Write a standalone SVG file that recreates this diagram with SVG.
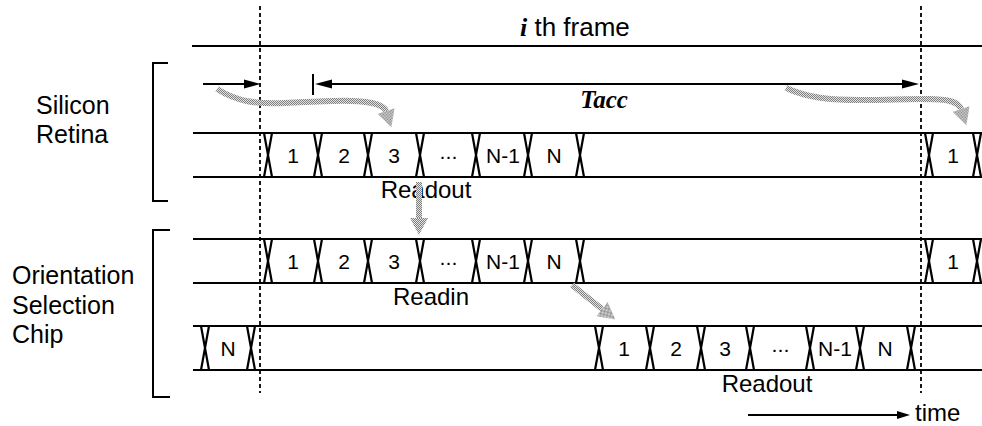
<svg xmlns="http://www.w3.org/2000/svg" width="982" height="426" viewBox="0 0 982 426">
<style>
.ln{stroke:#000;stroke-width:2;fill:none}
.dash{stroke:#000;stroke-width:1.8;stroke-dasharray:4 3;fill:none}
.xt{stroke:#000;stroke-width:2.2;fill:none}
.t{font-family:"Liberation Sans",Arial,sans-serif;fill:#000}
.lbl{font-size:21px;text-anchor:middle}
.cap{font-size:24px;text-anchor:middle}
.side{font-size:25px;text-anchor:start}
.bi{font-family:"Liberation Serif","Times New Roman",serif;font-weight:bold;font-style:italic}
.gray{stroke:url(#stip);stroke-width:6;fill:none}
.blk{stroke:#000;stroke-width:1.8;fill:none}
</style>
<defs>
<pattern id="stip" width="2" height="2" patternUnits="userSpaceOnUse">
<rect width="2" height="2" fill="#e2e2e2"/>
<rect width="1" height="1" fill="#808080"/>
<rect x="1" y="1" width="1" height="1" fill="#808080"/>
</pattern>
<marker id="gh" markerUnits="userSpaceOnUse" markerWidth="18" markerHeight="18" refX="0" refY="9" orient="auto" viewBox="0 0 18 18">
<path d="M0,0 L17,9 L0,18 z" fill="url(#stip)"/>
</marker>
<marker id="ah" markerUnits="userSpaceOnUse" markerWidth="17" markerHeight="10" refX="0" refY="5" orient="auto-start-reverse" viewBox="0 0 17 10">
<path d="M0,0.5 L17,5 L0,9.5 z" fill="#000"/>
</marker>
<marker id="ts" markerUnits="userSpaceOnUse" markerWidth="13" markerHeight="9" refX="0" refY="4.5" orient="auto" viewBox="0 0 13 9">
<path d="M0,0.5 L13,4.5 L0,8.5 z" fill="#000"/>
</marker>
<path id="x" d="M-4,0 L4,44 M4,0 L-4,44" class="xt"/>
</defs>

<g id="frame">
<line class="ln" x1="192" y1="46" x2="982" y2="46"/>
<text class="t" x="520" y="36" font-size="26px"><tspan class="bi">i</tspan> th frame</text>
</g>

<g id="time-markers">
<line class="dash" x1="260" y1="6" x2="260" y2="393"/>
<line class="dash" x1="921" y1="6" x2="921" y2="393"/>
</g>

<g id="silicon-retina">
<path class="ln" d="M168,63 H153 V201 H168"/>
<text class="t side" x="36" y="114">Silicon</text>
<text class="t side" x="36" y="143">Retina</text>
</g>

<g id="orientation-chip">
<path class="ln" d="M170,230 H153 V397 H170"/>
<text class="t side" x="12" y="284">Orientation</text>
<text class="t side" x="12" y="314">Selection</text>
<text class="t side" x="12" y="343">Chip</text>
</g>

<g id="row-retina-readout">
<line class="ln" x1="193" y1="133" x2="982" y2="133"/>
<line class="ln" x1="193" y1="177" x2="982" y2="177"/>
<use href="#x" x="268" y="133"/>
<use href="#x" x="318" y="133"/>
<use href="#x" x="368" y="133"/>
<use href="#x" x="420" y="133"/>
<use href="#x" x="476" y="133"/>
<use href="#x" x="528" y="133"/>
<use href="#x" x="580" y="133"/>
<use href="#x" x="929" y="133"/>
<use href="#x" x="977" y="133"/>
<text class="t lbl" x="293" y="163">1</text>
<text class="t lbl" x="344" y="163">2</text>
<text class="t lbl" x="394" y="163">3</text>
<text class="t lbl" x="448" y="163" letter-spacing="-1">···</text>
<text class="t lbl" x="503" y="163">N-1</text>
<text class="t lbl" x="554" y="163">N</text>
<text class="t lbl" x="953" y="163">1</text>
<text class="t cap" x="426" y="198">Readout</text>
</g>

<g id="row-chip-readin">
<line class="ln" x1="193" y1="239" x2="982" y2="239"/>
<line class="ln" x1="193" y1="283" x2="982" y2="283"/>
<use href="#x" x="268" y="239"/>
<use href="#x" x="318" y="239"/>
<use href="#x" x="368" y="239"/>
<use href="#x" x="420" y="239"/>
<use href="#x" x="476" y="239"/>
<use href="#x" x="528" y="239"/>
<use href="#x" x="580" y="239"/>
<use href="#x" x="929" y="239"/>
<use href="#x" x="977" y="239"/>
<text class="t lbl" x="293" y="269">1</text>
<text class="t lbl" x="344" y="269">2</text>
<text class="t lbl" x="394" y="269">3</text>
<text class="t lbl" x="448" y="269" letter-spacing="-1">···</text>
<text class="t lbl" x="503" y="269">N-1</text>
<text class="t lbl" x="554" y="269">N</text>
<text class="t lbl" x="953" y="269">1</text>
<text class="t cap" x="431" y="305">Readin</text>
</g>

<g id="row-chip-readout">
<line class="ln" x1="193" y1="326" x2="982" y2="326"/>
<line class="ln" x1="193" y1="370" x2="982" y2="370"/>
<use href="#x" x="205" y="326"/>
<use href="#x" x="251" y="326"/>
<use href="#x" x="599" y="326"/>
<use href="#x" x="650" y="326"/>
<use href="#x" x="701" y="326"/>
<use href="#x" x="750" y="326"/>
<use href="#x" x="810" y="326"/>
<use href="#x" x="860" y="326"/>
<use href="#x" x="911" y="326"/>
<text class="t lbl" x="228" y="356">N</text>
<text class="t lbl" x="624" y="356">1</text>
<text class="t lbl" x="676" y="356">2</text>
<text class="t lbl" x="725" y="356">3</text>
<text class="t lbl" x="780" y="356" letter-spacing="-1">···</text>
<text class="t lbl" x="835" y="356">N-1</text>
<text class="t lbl" x="885" y="356">N</text>
<text class="t cap" x="767" y="392">Readout</text>
</g>

<g id="connectors">
<line class="blk" x1="203" y1="84" x2="244" y2="84" marker-end="url(#ah)"/>
<line class="ln" x1="313" y1="74" x2="313" y2="95"/>
<line class="blk" x1="332" y1="84" x2="902" y2="84" marker-start="url(#ah)" marker-end="url(#ah)"/>
<text class="t bi" x="604" y="108" font-size="25px" text-anchor="middle">Tacc</text>
<path class="gray" d="M217,89 C238,102 255,104 285,103 C330,101 350,99 372,103 C381,105 385,108 386,111" marker-end="url(#gh)"/>
<path class="gray" d="M786,88 C808,98 830,100 860,100 C900,100 935,97 950,101 C957,103 960,106 961,109" marker-end="url(#gh)"/>
<path class="gray" d="M419,182 L419,218" marker-end="url(#gh)"/>
<path class="gray" d="M572,285 L602,309" marker-end="url(#gh)"/>
<line class="blk" x1="748" y1="415" x2="897" y2="415" marker-end="url(#ts)"/>
<text class="t" x="915" y="421" font-size="24px">time</text>
</g>
</svg>
